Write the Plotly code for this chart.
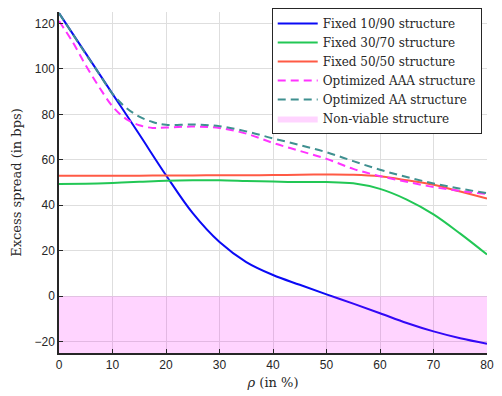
import plotly.graph_objects as go

x = [0, 5, 10, 15, 20, 25, 30, 35, 40, 45, 50, 55, 60, 65, 70, 75, 80]
fixed_10_90 = [124.5, 106.8, 89, 71.2, 53.2, 36.5, 23.8, 15, 9.3, 5, 0.8, -3.3, -7.5, -11.8, -15.5, -18.5, -20.9]
fixed_30_70 = [49.3, 49.5, 49.8, 50.3, 50.8, 51, 51, 50.7, 50.4, 50.2, 50.2, 49.7, 47.2, 42.5, 36, 27.5, 18.3]
fixed_50_50 = [53, 53, 53, 53, 53.1, 53.1, 53.2, 53.2, 53.3, 53.4, 53.5, 53.4, 52.7, 51, 49, 46, 42.9]

x_opt = [0, 2.5, 5, 7.5, 10, 12.5, 15, 17.5, 20, 25, 30, 35, 40, 45, 50, 55, 60, 65, 70, 75, 80]
opt_aaa = [121, 112, 101.5, 92, 83.5, 78, 75.2, 74, 74.2, 74.6, 74, 71.5, 67.4, 63.9, 60.4, 56, 52.8, 50.3, 48, 46.3, 44.9]
opt_aa = [124.5, 115.5, 106.5, 97.8, 89, 83, 79, 76.6, 75.4, 75.5, 74.8, 72.5, 69.4, 66.5, 63.3, 59.4, 55.6, 52.4, 49.6, 47.3, 45.3]

x_range = [0, 80]
y_range = [-25, 125]
nonviable_x = [0, 80, 80, 0, 0]
nonviable_y = [-25, -25, 0, 0, -25]

xticks = [0, 10, 20, 30, 40, 50, 60, 70, 80]
yticks = [-20, 0, 20, 40, 60, 80, 100, 120]

fig = go.Figure()
sp = dict(shape="spline", smoothing=1.0)
fig.add_trace(go.Scatter(x=x, y=fixed_10_90, mode="lines", name="Fixed 10/90 structure",
                         line=dict(color="#0a0af5", width=2, **sp)))
fig.add_trace(go.Scatter(x=x, y=fixed_30_70, mode="lines", name="Fixed 30/70 structure",
                         line=dict(color="#22c755", width=2, **sp)))
fig.add_trace(go.Scatter(x=x, y=fixed_50_50, mode="lines", name="Fixed 50/50 structure",
                         line=dict(color="#ff5a45", width=2, **sp)))
fig.add_trace(go.Scatter(x=x_opt, y=opt_aaa, mode="lines", name="Optimized AAA structure",
                         line=dict(color="#ff33ff", width=2, dash="8px,5px", **sp)))
fig.add_trace(go.Scatter(x=x_opt, y=opt_aa, mode="lines", name="Optimized AA structure",
                         line=dict(color="#3f9090", width=2, dash="8px,5px", **sp)))
fig.add_trace(go.Scatter(x=nonviable_x, y=nonviable_y, mode="lines", fill="toself",
                         fillcolor="rgba(255,0,255,0.17)", line=dict(width=0, color="rgba(0,0,0,0)"),
                         name="Non-viable structure"))

axis_common = dict(showgrid=True, gridcolor="#dedede", gridwidth=1, zeroline=False,
                   showline=True, linecolor="#262626", linewidth=1.5, ticks="inside",
                   ticklen=4, tickcolor="#262626",
                   tickfont=dict(family="Liberation Sans", size=12, color="#262626"))

fig.update_xaxes(range=x_range, tickvals=xticks,
                 title=dict(text="<i>ρ</i> (in %)", font=dict(family="DejaVu Serif", size=13, color="#262626"), standoff=7),
                 **axis_common)
fig.update_yaxes(range=y_range, tickvals=yticks,
                 title=dict(text="Excess spread (in bps)", font=dict(family="DejaVu Serif", size=13, color="#262626"), standoff=10),
                 **axis_common)

fig.update_layout(
    width=502, height=396,
    margin=dict(l=59, r=8, t=10, b=43),
    plot_bgcolor="white", paper_bgcolor="white",
    showlegend=True,
    legend=dict(x=0.497, y=1.012, xanchor="left", yanchor="top",
                bgcolor="white", bordercolor="#262626", borderwidth=1,
                font=dict(family="DejaVu Serif", size=12, color="#262626"),
                itemwidth=40, tracegroupgap=0),
)

fig.write_html("out.html")
